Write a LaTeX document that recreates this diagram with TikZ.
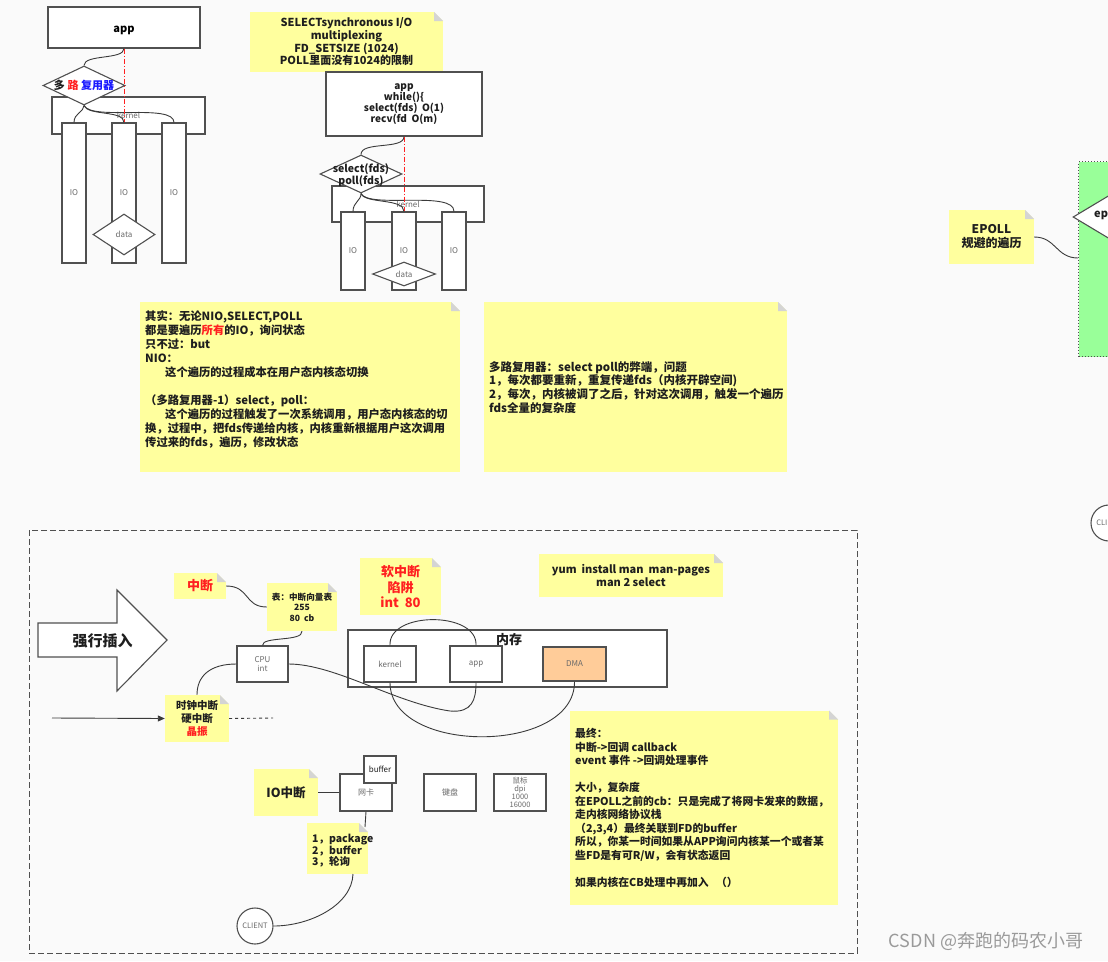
\documentclass[tikz,border=0pt]{standalone}
\usepackage{fontspec}
\setmainfont{Noto Sans CJK SC}
\usetikzlibrary{shapes.geometric,arrows.meta,calc}
\definecolor{bgc}{HTML}{FAFAFA}
\definecolor{noteyel}{HTML}{FFFF9E}
\definecolor{foldc}{HTML}{D4D4D4}
\definecolor{boxc}{HTML}{505050}
\definecolor{linec}{HTML}{3A3A3A}
\definecolor{labc}{HTML}{6A6A6A}
\definecolor{txtc}{HTML}{1E1E1E}
\definecolor{redc}{HTML}{FF2020}
\definecolor{bluec}{HTML}{1A1AFF}
\definecolor{greenc}{HTML}{99FF99}
\definecolor{dmac}{HTML}{FFCC99}
\definecolor{wmc}{HTML}{9A9A9A}
\tikzset{
  fsb/.style 2 args={font=\fontsize{#1}{#2}\selectfont\bfseries},
  fsr/.style 2 args={font=\fontsize{#1}{#2}\selectfont},
  box/.style={draw=boxc, line width=1.1pt, fill=white, inner sep=0pt, align=center, text=labc, fsr={8}{9.5}},
  dia/.style={diamond, draw=boxc, line width=1.1pt, fill=white, inner sep=0pt, text=labc, fsr={8}{9.5}},
  note/.style={fill=noteyel, inner sep=0pt, align=center, text=txtc,
    path picture={
      \fill[bgc] (path picture bounding box.north east) -- ++(-9pt,0pt) -- ++(9pt,-9pt) -- cycle;
      \fill[foldc] ($(path picture bounding box.north east)+(-9pt,0pt)$) -- ++(0pt,-9pt) -- ++(9pt,0pt) -- cycle;
    }},
  ntext/.style={anchor=north west, align=left, inner sep=0pt, text=txtc},
  conn/.style={draw=linec, line width=0.9pt},
  redline/.style={draw=redc, line width=0.9pt, dash pattern=on 5pt off 2pt on 1pt off 2pt},
}
\begin{document}
\begin{tikzpicture}[x=1pt,y=-1pt]
\clip (0,0) rectangle (1108,961);
\fill[bgc] (0,0) rectangle (1108,961);

% ---------- top-left diagram ----------
\node[box, minimum width=152pt, minimum height=41pt,
  label={[fsb={11}{13}, text=black, inner sep=0pt, yshift=-2.5pt]center:app}] (app1) at (124,27.5) {};
\node[box, minimum width=153pt, minimum height=37pt] (ker1) at (128.5,115.5) {kernel};
\node[box, minimum width=24pt, minimum height=140pt] (io1a) at (74,193) {IO};
\node[box, minimum width=24pt, minimum height=140pt] (io1b) at (124,193) {IO};
\node[box, minimum width=24pt, minimum height=140pt] (io1c) at (174,193) {IO};
\node[dia, minimum width=62pt, minimum height=41pt] (data1) at (124,234.5) {data};
\node[dia, minimum width=82pt, minimum height=39pt,
  label={[fsb={11}{13}, text=txtc, inner sep=0pt]center:{多 \textcolor{redc}{路} \textcolor{bluec}{复用器}}}] (mux1) at (84,85.5) {};
\draw[conn] (app1.south) .. controls (124,60) and (84,54) .. (mux1.north);
\draw[conn] (mux1.south) .. controls (84,112) and (74,113) .. (io1a.north);
\draw[conn] (mux1.south) .. controls (88,116) and (124,110) .. (io1b.north);
\draw[conn] (mux1.south) .. controls (92,121) and (174,103) .. (io1c.north);
\draw[redline] (app1.south) -- (io1b.north);

% ---------- second diagram ----------
\node[note, minimum width=193pt, minimum height=60pt, fsb={11}{12.7}] (selnote) at (346.5,42)
  {SELECTsynchronous I/O\\multiplexing\\FD\_SETSIZE (1024)\\POLL里面没有1024的限制};
\node[box, minimum width=156pt, minimum height=64pt, text=txtc, fsb={10}{11}] (app2) at (404,104)
  {app\\while()\{\\select(fds)~~O(1)\\recv(fd~~O(m)};
\node[box, minimum width=152pt, minimum height=36pt] (ker2) at (408,204) {kernel};
\node[box, minimum width=24pt, minimum height=78pt] (io2a) at (353,251) {IO};
\node[box, minimum width=24pt, minimum height=78pt] (io2b) at (404,251) {IO};
\node[box, minimum width=24pt, minimum height=78pt] (io2c) at (454,251) {IO};
\node[dia, minimum width=63pt, minimum height=24pt] (data2) at (404,274) {data};
\node[dia, minimum width=82pt, minimum height=38pt,
  label={[fsb={10.5}{12.5}, text=txtc, inner sep=0pt, align=center, yshift=-1pt]center:{select(fds)\\poll(fds)}}] (mux2) at (361,174) {};
\draw[conn] (app2.south) .. controls (404,150) and (361,141) .. (mux2.north);
\draw[conn] (mux2.south) .. controls (361,201) and (353,202) .. (io2a.north);
\draw[conn] (mux2.south) .. controls (365,204) and (404,198) .. (io2b.north);
\draw[conn] (mux2.south) .. controls (369,209) and (454,190) .. (io2c.north);
\draw[redline] (app2.south) -- (io2b.north);

% ---------- right edge ----------
\node[draw=boxc, line width=1pt, dotted, fill=greenc, anchor=north west, minimum width=80pt, minimum height=195pt] (epbox) at (1078,161) {};
\node[diamond, draw=boxc, line width=1.1pt, fill=white, inner sep=0pt, minimum width=100pt, minimum height=60pt] (epdia) at (1123,217) {};
\node[anchor=west, inner sep=0pt, fsb={11}{13}, text=txtc] (eptxt) at (1094,214) {epoll};
\node[note, minimum width=85pt, minimum height=54pt, fsb={12}{14}] (epnote) at (991.5,237) {EPOLL\\规避的遍历};
\coordinate (epc) at (1078,258);
\draw[conn] (epnote.east) .. controls (1056,237) and (1056,258) .. (epc);
\node[circle, draw=boxc, line width=1.1pt, fill=white, minimum size=36pt, inner sep=0pt, text=labc, fsr={7.5}{9}] (client2) at (1109,523) {CLIENT};

% ---------- yellow notes (middle) ----------
\node[note, minimum width=320pt, minimum height=170pt] (n1) at (300,387) {};
\node[ntext, fsb={11.3}{14}] (n1t) at (145,310)
  {其实：无论NIO,SELECT,POLL\\都是要遍历\textcolor{redc}{所有}的IO，询问状态\\只不过：but\\NIO：\\\hspace*{20pt}这个遍历的过程成本在用户态内核态切换\\[14pt]（多路复用器-1）select，poll：\\\hspace*{20pt}这个遍历的过程触发了一次系统调用，用户态内核态的切\\换，过程中，把fds传递给内核，内核重新根据用户这次调用\\传过来的fds，遍历，修改状态};
\node[note, minimum width=303pt, minimum height=170pt] (n2) at (635.5,387) {};
\node[ntext, fsb={11.5}{13.7}] (n2t) at (489,361)
  {多路复用器：select poll的弊端，问题\\1，每次都要重新，重复传递fds（内核开辟空间)\\2，每次，内核被调了之后，针对这次调用，触发一个遍历\\fds全量的复杂度};

% ---------- bottom frame ----------
\draw[draw=boxc, line width=1pt, dash pattern=on 6pt off 3pt] (29,530) rectangle (857,953);

\draw[draw=boxc, line width=1.1pt, fill=white] (38,623) -- (117,623) -- (117,590) -- (167,640) -- (117,691) -- (117,657) -- (38,657) -- cycle;
\node[fsb={15}{17}, text=txtc, inner sep=0pt] (qiang) at (102.5,641) {强行插入};

\node[note, minimum width=52pt, minimum height=26pt, fsb={13}{15}, text=redc] (zd) at (200,586) {中断};
\node[note, minimum width=70pt, minimum height=48pt, fsb={8.6}{10.5}] (biao) at (302,607) {表：中断向量表\\255\\80~~cb};
\node[box, minimum width=51pt, minimum height=36pt] (cpu) at (262.5,664) {CPU\\int};
\node[note, minimum width=64pt, minimum height=47pt, fsb={10.5}{12.5}] (shizhong) at (197,718.5) {时钟中断\\硬中断\\\textcolor{redc}{晶振}};
\node[note, minimum width=81pt, minimum height=57pt, fsb={13}{15.5}, text=redc] (soft) at (400.5,586.5) {软中断\\陷阱\\int~~80};
\node[note, minimum width=184pt, minimum height=43pt, fsb={11}{13}] (yum) at (631,575.5) {yum~~install man~~man-pages\\man 2 select};

\node[box, minimum width=319pt, minimum height=57pt] (mem) at (507.5,658.5) {};
\node[fsb={13}{15}, text=txtc, inner sep=0pt] (memt) at (509,640) {内存};
\node[box, minimum width=52pt, minimum height=36pt] (kernelm) at (390,664) {kernel};
\node[box, minimum width=52pt, minimum height=36pt] (appm) at (476,664) {app};
\node[box, minimum width=63pt, minimum height=34pt, fill=dmac] (dma) at (574.5,664) {DMA};

\draw[conn] (zd.east) .. controls (250,586) and (244,607) .. (biao.west);
\draw[conn] (cpu.north) .. controls (262,636) and (303,642) .. (biao.south);
\draw[conn] (cpu.west) .. controls (210,664) and (197,676) .. (shizhong.north);
\draw[conn] (cpu.east) .. controls (335,664) and (395,703) .. (450,711) .. controls (472,713) and (476,700) .. (appm.south);
\draw[conn] (kernelm.north) .. controls (388,611) and (478,611) .. (appm.north);
\draw[conn] (kernelm.south) .. controls (390,755) and (575,755) .. (dma.south);

\coordinate (arrstart) at (52,718);
\coordinate (dashend) at (273,718);
\draw[conn, -{Triangle[length=7pt,width=6pt]}] (arrstart) -- (shizhong.west);
\draw[conn, dashed] (shizhong.east) -- (dashend);

\node[note, minimum width=268pt, minimum height=194pt] (fin) at (704,807.5) {};
\node[ntext, fsb={10.8}{13.5}] (fint) at (575,728)
  {最终：\\中断->回调 callback\\event 事件 ->回调处理事件\\[13.5pt]大小，复杂度\\在EPOLL之前的cb：只是完成了将网卡发来的数据，\\走内核网络协议栈\\（2,3,4）最终关联到FD的buffer\\所以，你某一时间如果从APP询问内核某一个或者某\\些FD是有可R/W，会有状态返回\\[13.5pt]如果内核在CB处理中再加入~~~（）};

% ---------- network ----------
\node[note, minimum width=64pt, minimum height=47pt, fsb={12.5}{14}] (ioint) at (286,792.5) {IO中断};
\node[box, minimum width=52pt, minimum height=37pt] (wangka) at (366,792.5) {网卡};
\node[box, minimum width=32pt, minimum height=27pt, text=txtc] (buffer) at (380,769.5) {buffer};
\node[box, minimum width=52pt, minimum height=37pt] (jianpan) at (450,792.5) {键盘};
\node[box, minimum width=52pt, minimum height=37pt, fsr={7.5}{8.2}] (shubiao) at (520,792.5) {鼠标\\dpi\\1000\\16000};
\draw[conn] (ioint.east) -- (wangka.west);
\node[note, minimum width=61pt, minimum height=51pt] (pkg) at (337.5,848.5) {};
\node[ntext, fsb={10.5}{10.8}] (pkgt) at (312,834) {1，package\\2，buffer\\3，轮询};
\coordinate (pkgc) at (365,827);
\coordinate (pkgbot) at (353,874);
\draw[conn] (wangka.south) -- (pkgc);
\node[circle, draw=boxc, line width=1.1pt, fill=white, minimum size=36pt, inner sep=0pt, text=labc, fsr={7.5}{9}] (client) at (255,926) {CLIENT};
\draw[conn] (pkgbot) .. controls (352,905) and (310,926) .. (client.east);

\node[fsr={18}{20}, text=wmc, inner sep=0pt] (wm) at (986,941) {CSDN @奔跑的码农小哥};
\end{tikzpicture}
\end{document}
